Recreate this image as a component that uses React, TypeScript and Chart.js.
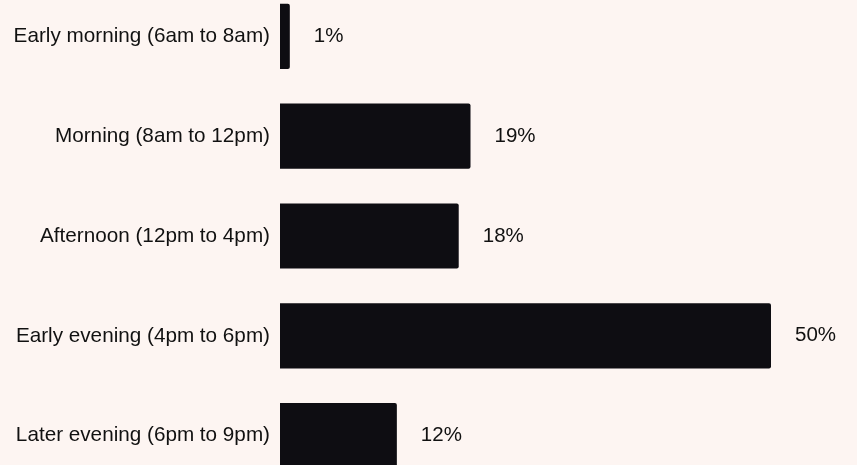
import React, { useEffect, useRef } from "react";
import { Chart, registerables } from "chart.js";

Chart.register(...registerables);

const categories: string[] = [
  "Early morning (6am to 8am)",
  "Morning (8am to 12pm)",
  "Afternoon (12pm to 4pm)",
  "Early evening (4pm to 6pm)",
  "Later evening (6pm to 9pm)",
];
const shares: number[] = [1, 19.4, 18.2, 50, 11.9];
const valueLabels: string[] = ["1%", "19%", "18%", "50%", "12%"];

const BG = "#fdf5f2";
const BAR = "#0e0d12";
const FONT = "Arial, 'Liberation Sans', Helvetica, sans-serif";

const valueLabelPlugin = {
  id: "valueLabels",
  afterDatasetsDraw(chart: any) {
    const ctx = chart.ctx;
    const meta = chart.getDatasetMeta(0);
    ctx.save();
    ctx.font = `20.5px ${FONT}`;
    ctx.fillStyle = "#111111";
    ctx.textAlign = "left";
    ctx.textBaseline = "middle";
    meta.data.forEach((el: any, i: number) => {
      ctx.fillText(valueLabels[i], el.x + 24, el.y);
    });
    ctx.restore();
  },
};

export default function App() {
  const ref = useRef<HTMLCanvasElement | null>(null);
  useEffect(() => {
    if (!ref.current) return;
    const chart = new Chart(ref.current, {
      type: "bar",
      data: {
        labels: categories,
        datasets: [
          {
            data: shares,
            backgroundColor: BAR,
            borderRadius: 2,
            borderSkipped: "start",
            categoryPercentage: 1,
            barPercentage: 0.652,
          },
        ],
      },
      options: {
        indexAxis: "y",
        animation: false,
        responsive: false,
        maintainAspectRatio: false,
        layout: { padding: { left: 0, right: 86, top: 0, bottom: 0 } },
        plugins: { legend: { display: false }, tooltip: { enabled: false } },
        scales: {
          x: { display: false, min: 0, max: 50 },
          y: {
            grid: { display: false, drawTicks: false },
            border: { display: false },
            afterFit: (scale: any) => {
              scale.width = 280;
            },
            ticks: {
              padding: 10,
              color: "#111111",
              font: { family: FONT, size: 20.7 },
            },
          },
        },
      },
      plugins: [valueLabelPlugin],
    });
    return () => chart.destroy();
  }, []);
  return (
    <div style={{ position: "fixed", left: 0, top: 0, width: 857, height: 465, background: BG, overflow: "hidden" }}>
      <canvas ref={ref} width={857} height={544} style={{ position: "absolute", left: 0, top: -36, width: 857, height: 544 }} />
    </div>
  );
}
